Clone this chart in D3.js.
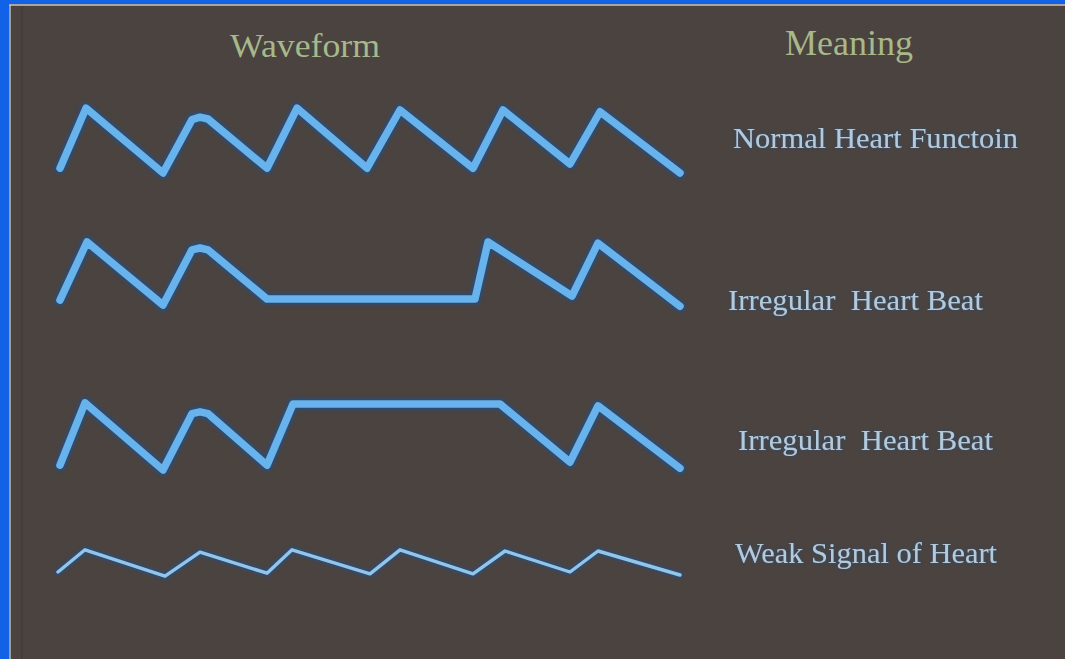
<!DOCTYPE html>
<html>
<head>
<meta charset="utf-8">
<script src="https://cdn.jsdelivr.net/npm/d3@7"></script>
<style>
  html, body { margin: 0; padding: 0; background: #4a4340; }
  svg { display: block; }
  text { white-space: pre; }
</style>
</head>
<body>
<svg id="chart" width="1065" height="659"></svg>
<script>
// ---- data ----
const headers = ["Waveform", "Meaning"];
const meanings = ["Normal Heart Functoin", "Irregular  Heart Beat", "Irregular  Heart Beat", "Weak Signal of Heart"];
// time (arbitrary units) of each vertex and amplitude
const tNormal = [2, 28, 105, 134, 142, 150, 209, 239, 309, 342, 415, 445, 512, 542, 622];
const vNormal = [0.03, 1.03, -0.05, 0.84, 0.88, 0.85, 0.03, 1.03, 0.03, 1.0, 0.03, 1.0, 0.1, 0.97, -0.05];
const tIrreg1 = [2, 29, 105, 134, 142, 150, 209, 417, 430, 514, 540, 622];
const vIrreg1 = [0.03, 1.0, -0.05, 0.87, 0.9, 0.87, 0.05, 0.05, 1.0, 0.1, 0.98, -0.07];
const tIrreg2 = [2, 27, 105, 134, 142, 150, 209, 235, 442, 512, 540, 622];
const vIrreg2 = [0.03, 1.07, -0.05, 0.89, 0.92, 0.89, 0.03, 1.05, 1.05, 0.08, 1.02, -0.02];
const tWeak = [0, 27, 107, 142, 209, 234, 312, 342, 415, 447, 512, 540, 622];
const vWeak = [0.05, 0.42, -0.02, 0.38, 0.03, 0.42, 0.02, 0.42, 0.02, 0.4, 0.05, 0.4, 0.0];

const series = [
  { t: tNormal, v: vNormal, weak: false },
  { t: tIrreg1, v: vIrreg1, weak: false },
  { t: tIrreg2, v: vIrreg2, weak: false },
  { t: tWeak, v: vWeak, weak: true }
];

// ---- layout ----
const W = 1065, H = 659;
const rowBase = [170, 302, 467, 575];
const labelX = [733, 728, 738, 735];
const labelY = [148, 310, 450, 563];
const labelW = [285, 255, 255, 262];

const svg = d3.select("#chart");
const defs = svg.append("defs");
const blur = defs.append("filter").attr("id", "glow").attr("x", "-10%").attr("y", "-30%").attr("width", "120%").attr("height", "160%");
blur.append("feGaussianBlur").attr("stdDeviation", 1.6);
const tglow = defs.append("filter").attr("id", "tglow").attr("x", "-5%").attr("y", "-30%").attr("width", "110%").attr("height", "160%");
tglow.append("feGaussianBlur").attr("in", "SourceAlpha").attr("stdDeviation", 1.5).attr("result", "b");
tglow.append("feFlood").attr("flood-color", "#1d4f8a").attr("flood-opacity", 0.9);
tglow.append("feComposite").attr("in2", "b").attr("operator", "in").attr("result", "s");
const m = tglow.append("feMerge");
m.append("feMergeNode").attr("in", "s");
m.append("feMergeNode").attr("in", "SourceGraphic");

// background
svg.append("rect").attr("width", W).attr("height", H).attr("fill", "#4a4340");
// frame
svg.append("rect").attr("x", 0).attr("y", 0).attr("width", 9).attr("height", H).attr("fill", "#1262e8");
svg.append("rect").attr("x", 0).attr("y", 0).attr("width", W).attr("height", 4).attr("fill", "#1262e8");
svg.append("line").attr("x1", 10).attr("x2", 10).attr("y1", 5).attr("y2", H).attr("stroke", "#bdbab6").attr("stroke-width", 1.5);
svg.append("line").attr("x1", 9).attr("x2", W).attr("y1", 5).attr("y2", 5).attr("stroke", "#c9c6c2").attr("stroke-width", 1.5);
svg.append("line").attr("x1", 22).attr("x2", 22).attr("y1", 6).attr("y2", H).attr("stroke", "#3f3936").attr("stroke-width", 1);

// scales
const x = d3.scaleLinear().domain([0, 622]).range([58, 680]);
const y = d3.scaleLinear().domain([0, 1]).range([0, -60]);

const line = d3.line().x(d => x(d[0])).y(d => y(d[1])).curve(d3.curveLinear);

series.forEach((s, i) => {
  const pts = s.t.map((t, k) => [t, s.v[k]]);
  const g = svg.append("g").attr("transform", `translate(0,${rowBase[i]})`);
  g.append("path").attr("d", line(pts)).attr("fill", "none")
    .attr("stroke", "#244e80").attr("stroke-opacity", 0.85)
    .attr("stroke-width", s.weak ? 6.5 : 11.5)
    .attr("stroke-linejoin", "round").attr("stroke-linecap", "round")
    .attr("filter", "url(#glow)");
  g.append("path").attr("d", line(pts)).attr("fill", "none")
    .attr("stroke", s.weak ? "#92c5ea" : "#68b3ec")
    .attr("stroke-width", s.weak ? 3.4 : 7.5)
    .attr("stroke-linejoin", "round").attr("stroke-linecap", "round");
});

// headers
svg.append("text").attr("x", 230).attr("y", 57)
  .attr("font-family", "'Liberation Serif', 'Times New Roman', serif")
  .attr("font-size", 34).attr("fill", "#a7b98a")
  .attr("textLength", 150).attr("lengthAdjust", "spacingAndGlyphs").text(headers[0]);
svg.append("text").attr("x", 785).attr("y", 55)
  .attr("font-family", "'Liberation Serif', 'Times New Roman', serif")
  .attr("font-size", 35).attr("fill", "#a7b98a")
  .attr("textLength", 128).attr("lengthAdjust", "spacingAndGlyphs").text(headers[1]);

// meanings
svg.selectAll("text.meaning").data(meanings).enter().append("text")
  .attr("class", "meaning")
  .attr("x", (d, i) => labelX[i]).attr("y", (d, i) => labelY[i])
  .attr("font-family", "'Liberation Serif', 'Times New Roman', serif")
  .attr("font-size", 29.5).attr("fill", "#b3cadb")
  .attr("textLength", (d, i) => labelW[i]).attr("lengthAdjust", "spacingAndGlyphs")
  .attr("filter", "url(#tglow)")
  .text(d => d);
</script>
</body>
</html>
